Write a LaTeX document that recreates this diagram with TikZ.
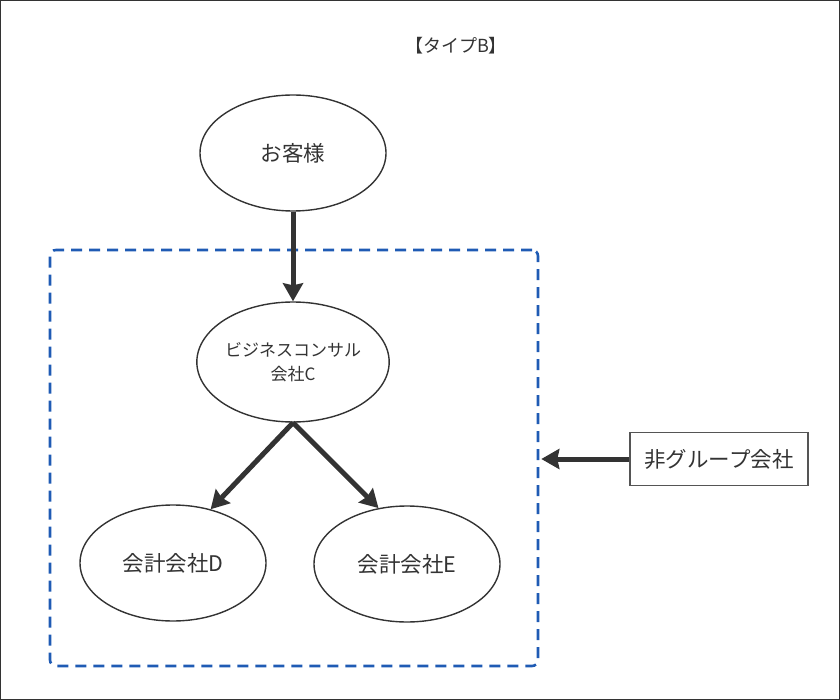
\documentclass[tikz,border=0pt]{standalone}
\usepackage{fontspec}
\setmainfont{Noto Sans CJK JP}
\usepackage{tikz}
\usetikzlibrary{arrows.meta, positioning, shapes.geometric}
\definecolor{LineGray}{RGB}{51, 51, 51}
\definecolor{BoxGray}{RGB}{85, 85, 85}
\definecolor{GroupBlue}{RGB}{31, 91, 180}
\begin{document}
\begin{tikzpicture}[x=1pt, y=-1pt,
  ell/.style={ellipse, draw=LineGray, line width=1.4pt, fill=white, minimum width=186pt, minimum height=116pt, inner sep=0pt, font=\fontsize{21.5}{26}\selectfont, align=center, text=LineGray},
  rbox/.style={draw=BoxGray, line width=1.6pt, minimum width=178pt, minimum height=53pt, inner sep=0pt, font=\fontsize{21.5}{26}\selectfont, text=LineGray},
  grpframe/.style={draw=GroupBlue, line width=2.6pt, dash pattern=on 11pt off 7pt, rounded corners=6pt, minimum width=488pt, minimum height=416pt, inner sep=0pt},
  arr/.style={-{Stealth[length=18pt, width=20pt, inset=2pt]}, LineGray, line width=5pt}]
\useasboundingbox (0,0) rectangle (840,700);
\draw[LineGray, line width=1.5pt] (0,0) rectangle (840,700);
\node[font=\fontsize{18}{22}\selectfont, text=LineGray] (title) at (456,46) {【タイプB】};
\node[grpframe] (grp) at (294,458) {};
\node[ell] (cust) at (293,153) {お客様};
\node[ell, minimum height=120pt, font=\fontsize{17}{24}\selectfont] (consC) at (293,362) {ビジネスコンサル\\会社C};
\node[ell] (acctD) at (173,563) {会計会社D};
\node[ell] (acctE) at (407,564) {会計会社E};
\node[rbox] (nongrp) at (719,459) {非グループ会社};
\draw[arr] (cust) -- (consC);
\draw[arr] (consC.south) -- (acctD.55);
\draw[arr] (consC.south) -- (acctE.117);
\draw[arr] (nongrp.west) -- ([xshift=2pt]nongrp.west -| grp.east);
\end{tikzpicture}
\end{document}
